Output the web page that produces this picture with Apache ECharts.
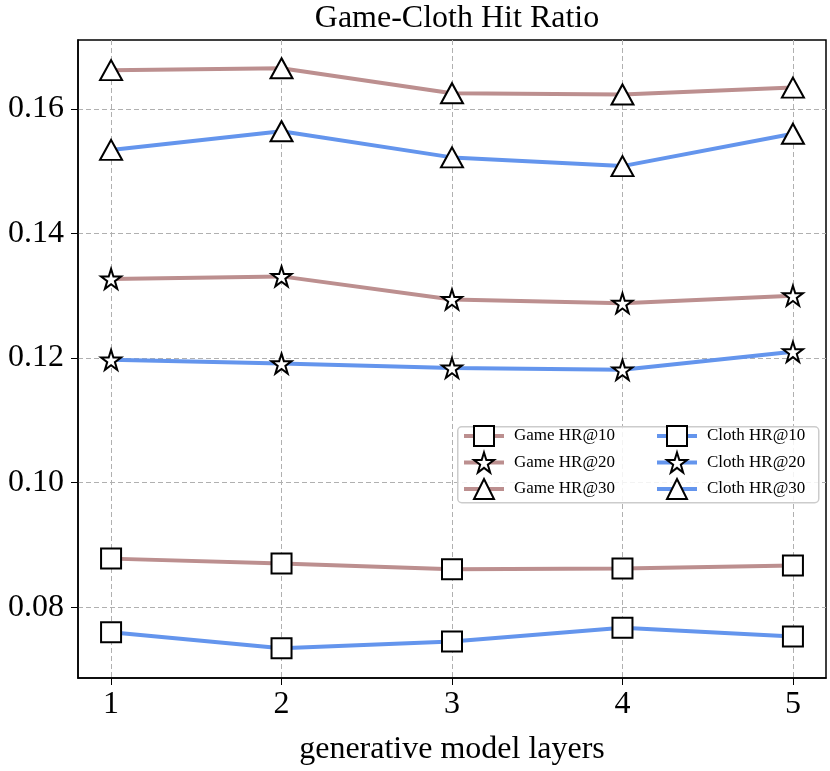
<!DOCTYPE html>
<html>
<head>
<meta charset="utf-8">
<script src="https://cdn.jsdelivr.net/npm/echarts@6/dist/echarts.min.js"></script>
<style>
  html, body { margin: 0; padding: 0; background: #fff; }
  #main { width: 830px; height: 771px; }
</style>
</head>
<body>
<div id="main"></div>
<script>
// 数据
const layers = [1, 2, 3, 4, 5];
const gameHR10 = [0.0878, 0.0870, 0.0861, 0.0862, 0.0867];
const gameHR20 = [0.1327, 0.1331, 0.1294, 0.1288, 0.1300];
const gameHR30 = [0.1662, 0.1665, 0.1625, 0.1623, 0.1634];
const clothHR10 = [0.0760, 0.0734, 0.0745, 0.0767, 0.0753];
const clothHR20 = [0.1197, 0.1191, 0.1184, 0.1181, 0.1210];
const clothHR30 = [0.1534, 0.1564, 0.1522, 0.1508, 0.1560];
const yTicks = [0.08, 0.10, 0.12, 0.14, 0.16];
const gameNames = ['Game HR@10', 'Game HR@20', 'Game HR@30'];
const clothNames = ['Cloth HR@10', 'Cloth HR@20', 'Cloth HR@30'];

const gameColor = '#bc8f8f';
const clothColor = '#6495ed';
const star = 'path://M50,4 L61,38 L97,38 L68,59 L79,94 L50,73 L21,94 L32,59 L3,38 L39,38 Z';
const font = '"Liberation Serif", "DejaVu Serif", serif';

function pts(arr) {
  return arr.map((v, i) => [layers[i], v]);
}

// 折线
function mkSeries(name, arr, color, symbol, size) {
  return {
    name: name,
    type: 'line',
    data: pts(arr),
    symbol: symbol,
    symbolSize: size,
    showAllSymbol: true,
    lineStyle: { color: color, width: 4 },
    itemStyle: { color: '#fff', borderColor: '#000', borderWidth: 2 },
    emphasis: { disabled: true },
    z: 3
  };
}

// 图例（两列）
function mkLegend(names, left) {
  return {
    orient: 'vertical',
    left: left,
    top: 425,
    z: 10,
    itemGap: 4.5,
    itemWidth: 40,
    itemHeight: 25,
    padding: 0,
    lineStyle: { width: 4 },
    itemStyle: { borderWidth: 2 },
    textStyle: { fontFamily: font, fontSize: 17, color: '#000', padding: [0, 0, 0, 5] },
    data: names
  };
}

let chart = echarts.init(document.getElementById('main'), null, { renderer: 'canvas' });

let option = {
  backgroundColor: '#fff',
  animation: false,
  title: {
    text: 'Game-Cloth Hit Ratio',
    left: 452,
    textAlign: 'center',
    top: -2,
    textStyle: { fontFamily: font, fontWeight: 'normal', fontSize: 32, color: '#000' }
  },
  graphic: [{
    type: 'rect',
    left: 457,
    top: 426,
    shape: { width: 361, height: 76, r: 4 },
    style: { fill: 'rgba(255,255,255,0.85)', stroke: '#cccccc', lineWidth: 1.5 },
    z: 9
  }],
  legend: [mkLegend(gameNames, 462), mkLegend(clothNames, 655)],
  grid: {
    left: 78, right: 4, top: 40, bottom: 91,
    show: true, borderColor: '#000', borderWidth: 1.5, containLabel: false
  },
  xAxis: {
    type: 'value',
    min: 0.806,
    max: 5.194,
    name: 'generative model layers',
    nameLocation: 'middle',
    nameGap: 56,
    nameTextStyle: { fontFamily: font, fontSize: 32, color: '#000' },
    axisLine: { show: true, lineStyle: { color: '#000', width: 1.5 } },
    axisTick: { show: true, length: 7, lineStyle: { color: '#000' }, customValues: layers },
    axisLabel: { fontFamily: font, fontSize: 32, color: '#000', margin: 11, customValues: layers },
    splitLine: { show: true, lineStyle: { color: '#b0b0b0', type: [5, 3], width: 1 } }
  },
  yAxis: {
    type: 'value',
    min: 0.06864,
    max: 0.17104,
    axisLine: { show: true, lineStyle: { color: '#000', width: 1.5 } },
    axisTick: { show: true, length: 7, lineStyle: { color: '#000' }, customValues: yTicks },
    axisLabel: {
      fontFamily: font, fontSize: 32, color: '#000', margin: 14, customValues: yTicks,
      formatter: v => v.toFixed(2)
    },
    splitLine: { show: true, lineStyle: { color: '#b0b0b0', type: [5, 3], width: 1 } }
  },
  series: [
    mkSeries('Game HR@10', gameHR10, gameColor, 'rect', [20, 20]),
    mkSeries('Game HR@20', gameHR20, gameColor, star, 20),
    mkSeries('Game HR@30', gameHR30, gameColor, 'triangle', [22, 20]),
    mkSeries('Cloth HR@10', clothHR10, clothColor, 'rect', [20, 20]),
    mkSeries('Cloth HR@20', clothHR20, clothColor, star, 20),
    mkSeries('Cloth HR@30', clothHR30, clothColor, 'triangle', [22, 20])
  ]
};

chart.setOption(option);
</script>
</body>
</html>
